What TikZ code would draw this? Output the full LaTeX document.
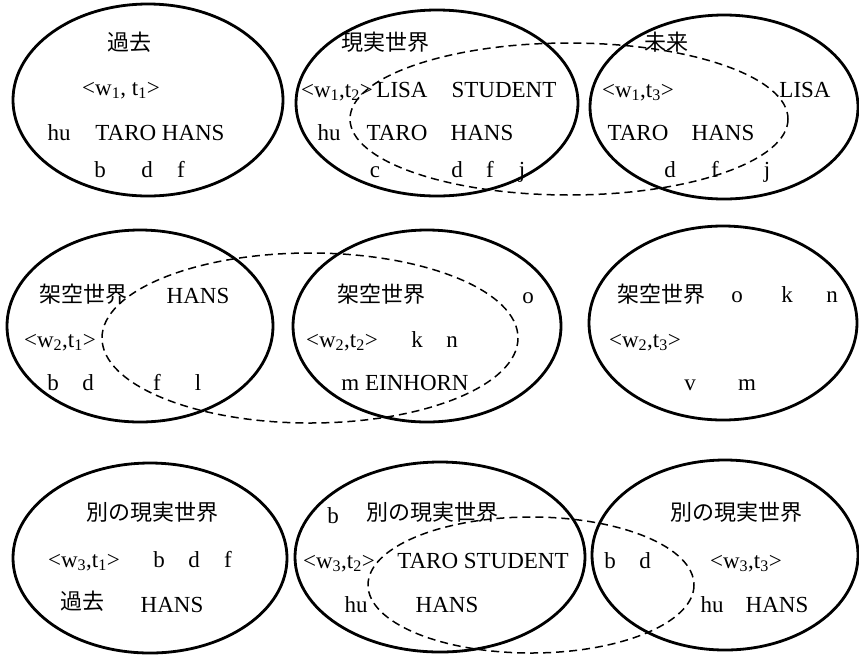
\documentclass[tikz,border=0pt]{standalone}
\usepackage{fontspec}
\setmainfont{Liberation Serif}
\newfontfamily\cjk{Noto Sans CJK JP}
\newcommand{\ssb}[1]{\textsubscript{#1}}
\begin{document}
\begin{tikzpicture}[x=1pt,y=-1pt,
  world/.style={line width=2.8pt},
  region/.style={line width=1.5pt, dash pattern=on 8pt off 5pt},
  lab/.style={anchor=base, inner sep=0pt, font=\fontsize{23}{26}\selectfont},
  jlab/.style={anchor=base, inner sep=0pt, font=\fontsize{22}{26}\selectfont\cjk}]
\useasboundingbox (0,0) rectangle (859,657);
% ---------- ellipses ----------
\draw[world] (148,100) ellipse [x radius=135, y radius=96];
\draw[world] (437,103) ellipse [x radius=141, y radius=93];
\draw[world] (724,107) ellipse [x radius=134, y radius=92];
\draw[region] (569,119) ellipse [x radius=219, y radius=76];
\draw[world] (140,326) ellipse [x radius=133, y radius=96];
\draw[world] (427,326) ellipse [x radius=134, y radius=96];
\draw[world] (723,323) ellipse [x radius=134, y radius=97];
\draw[region] (310,338) ellipse [x radius=208, y radius=85];
\draw[world] (150,558) ellipse [x radius=137, y radius=95];
\draw[world] (440,557) ellipse [x radius=145, y radius=95];
\draw[world] (725,555) ellipse [x radius=133, y radius=95];
\draw[region] (531,585) ellipse [x radius=163, y radius=68];
% ---------- row 1 ----------
\node[jlab] (a1) at (129,50) {過去};
\node[lab] (a2) at (121,95) {<w\ssb{1}, t\ssb{1}>};
\node[lab] (a3) at (59,140) {hu};
\node[lab] (a4) at (160,140) {TARO HANS};
\node[lab] (a5) at (100,177) {b};
\node[lab] (a6) at (147,177) {d};
\node[lab] (a7) at (181,177) {f};
\node[jlab] (b1) at (385,50) {現実世界};
\node[lab] (b2) at (337,97) {<w\ssb{1},t\ssb{2}>};
\node[lab] (b3) at (402,97) {LISA};
\node[lab] (b4) at (504,97) {STUDENT};
\node[lab] (b5) at (329,140) {hu};
\node[lab] (b6) at (397,140) {TARO};
\node[lab] (b7) at (482,140) {HANS};
\node[lab] (b8) at (375,177) {c};
\node[lab] (b9) at (457,177) {d};
\node[lab] (b10) at (490,177) {f};
\node[lab] (b11) at (522,177) {j};
\node[jlab] (c1) at (666,50) {未来};
\node[lab] (c2) at (638,97) {<w\ssb{1},t\ssb{3}>};
\node[lab] (c3) at (805,97) {LISA};
\node[lab] (c4) at (638,140) {TARO};
\node[lab] (c5) at (723,140) {HANS};
\node[lab] (c6) at (670,177) {d};
\node[lab] (c7) at (715,177) {f};
\node[lab] (c8) at (767,177) {j};
% ---------- row 2 ----------
\node[jlab] (d1) at (83,302) {架空世界};
\node[lab] (d2) at (198,303) {HANS};
\node[lab] (d3) at (60,347) {<w\ssb{2},t\ssb{1}>};
\node[lab] (d4) at (53,390) {b};
\node[lab] (d5) at (88,390) {d};
\node[lab] (d6) at (157,390) {f};
\node[lab] (d7) at (198,390) {l};
\node[jlab] (e1) at (381,302) {架空世界};
\node[lab] (e2) at (528,303) {o};
\node[lab] (e3) at (342,347) {<w\ssb{2},t\ssb{2}>};
\node[lab] (e4) at (417,347) {k};
\node[lab] (e5) at (452,347) {n};
\node[lab] (e6) at (405,390) {m EINHORN};
\node[jlab] (f1) at (661,302) {架空世界};
\node[lab] (f2) at (737,302) {o};
\node[lab] (f3) at (787,302) {k};
\node[lab] (f4) at (832,302) {n};
\node[lab] (f5) at (645,347) {<w\ssb{2},t\ssb{3}>};
\node[lab] (f6) at (690,390) {v};
\node[lab] (f7) at (747,390) {m};
% ---------- row 3 ----------
\node[jlab] (g1) at (152,520) {別の現実世界};
\node[lab] (g2) at (84,567) {<w\ssb{3},t\ssb{1}>};
\node[lab] (g3) at (159,567) {b};
\node[lab] (g4) at (194,567) {d};
\node[lab] (g5) at (228,567) {f};
\node[jlab] (g6) at (82,609) {過去};
\node[lab] (g7) at (172,612) {HANS};
\node[lab] (h1) at (333,523) {b};
\node[jlab] (h2) at (432,520) {別の現実世界};
\node[lab] (h3) at (339,568) {<w\ssb{3},t\ssb{2}>};
\node[lab] (h4) at (483,568) {TARO STUDENT};
\node[lab] (h5) at (356,612) {hu};
\node[lab] (h6) at (447,612) {HANS};
\node[jlab] (i1) at (736,520) {別の現実世界};
\node[lab] (i2) at (610,568) {b};
\node[lab] (i3) at (645,568) {d};
\node[lab] (i4) at (746,568) {<w\ssb{3},t\ssb{3}>};
\node[lab] (i5) at (712,612) {hu};
\node[lab] (i6) at (777,612) {HANS};
\end{tikzpicture}
\end{document}
